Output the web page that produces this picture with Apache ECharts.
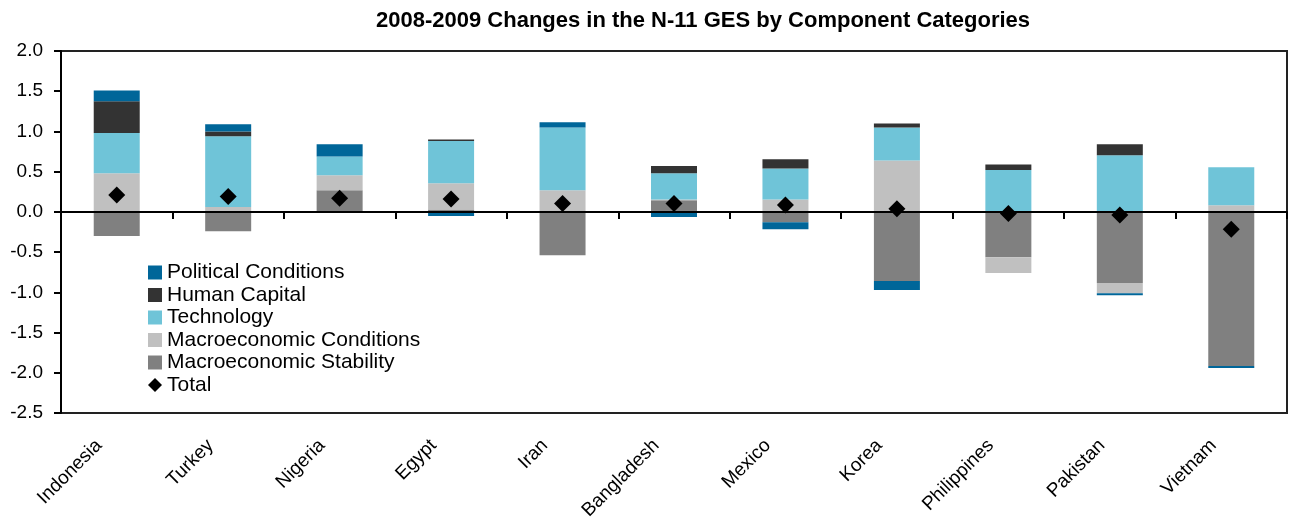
<!DOCTYPE html>
<html>
<head>
<meta charset="utf-8">
<script src="https://cdn.jsdelivr.net/npm/echarts@6/dist/echarts.min.js"></script>
<style>
    html, body {
        margin: 0;
        padding: 0;
        background: #fff;
    }

    #main {
        width: 1291px;
        height: 518px;
    }
</style>
</head>
<body>
<div id="main"></div>
<script>
    var categories = ['Indonesia', 'Turkey', 'Nigeria', 'Egypt', 'Iran', 'Bangladesh', 'Mexico', 'Korea', 'Philippines', 'Pakistan', 'Vietnam'];
    var stability = [-0.30, -0.24, 0.27, 0.03, -0.54, 0.145, -0.13, -0.86, -0.565, -0.885, -1.915];
    var conditions = [0.48, 0.06, 0.185, 0.325, 0.27, 0.01, 0.155, 0.64, -0.195, -0.125, 0.083];
    var technology = [0.50, 0.88, 0.235, 0.525, 0.78, 0.325, 0.385, 0.41, 0.52, 0.705, 0.472];
    var humanCapital = [0.395, 0.06, 0, 0.02, 0, 0.09, 0.115, 0.05, 0.07, 0.135, 0];
    var political = [0.135, 0.09, 0.15, -0.05, 0.065, -0.065, -0.085, -0.11, 0, -0.025, -0.025];
    var total = [0.21, 0.19, 0.17, 0.16, 0.105, 0.105, 0.085, 0.04, -0.02, -0.04, -0.215];

    var font = 'Liberation Sans, Arial, sans-serif';

    var myChart = echarts.init(document.getElementById('main'));

    function barSeries(name, data, color) {
        return {
            name: name,
            type: 'bar',
            stack: 'ges',
            barWidth: 46,
            itemStyle: {color: color},
            data: data,
            animation: false
        };
    }

    var option = {
        backgroundColor: '#fff',
        textStyle: {fontFamily: font},
        title: {
            text: '2008-2009 Changes in the N-11 GES by Component Categories',
            left: 371,
            top: 5,
            textStyle: {
                fontFamily: font,
                fontSize: 22,
                fontWeight: 'bold',
                color: '#000'
            }
        },
        legend: {
            orient: 'vertical',
            left: 148,
            top: 262,
            padding: 0,
            itemWidth: 14,
            itemHeight: 14,
            itemGap: 1.5,
            textStyle: {
                fontFamily: font,
                fontSize: 21,
                color: '#000'
            },
            data: [
                {name: 'Political Conditions', icon: 'rect'},
                {name: 'Human Capital', icon: 'rect'},
                {name: 'Technology', icon: 'rect'},
                {name: 'Macroeconomic Conditions', icon: 'rect'},
                {name: 'Macroeconomic Stability', icon: 'rect'},
                {name: 'Total', icon: 'diamond'}
            ]
        },
        grid: {
            left: 61,
            right: 4,
            top: 51,
            bottom: 105,
            show: true,
            borderColor: '#222',
            borderWidth: 2,
            containLabel: false,
            outerBoundsMode: 'none'
        },
        xAxis: [
            {
                type: 'category',
                data: categories,
                axisLine: {onZero: true, lineStyle: {color: '#000', width: 2}},
                axisTick: {show: true, length: 7, interval: 0, lineStyle: {color: '#000', width: 2}},
                axisLabel: {show: false},
                z: 10
            },
            {
                type: 'category',
                data: categories,
                position: 'bottom',
                axisLine: {show: false, onZero: false},
                axisTick: {show: false},
                axisLabel: {
                    interval: 0,
                    rotate: 45,
                    margin: 12,
                    padding: [0, 25, 0, 0],
                    fontFamily: font,
                    fontSize: 19,
                    color: '#000'
                }
            }
        ],
        yAxis: {
            type: 'value',
            min: -2.5,
            max: 2,
            interval: 0.5,
            splitLine: {show: false},
            axisLine: {show: true, lineStyle: {color: '#000', width: 2}},
            axisTick: {show: true, length: 7, lineStyle: {color: '#000', width: 2}},
            axisLabel: {
                margin: 18,
                fontFamily: font,
                fontSize: 19,
                color: '#000',
                formatter: function (v) {
                    return v.toFixed(1);
                }
            }
        },
        series: [
            barSeries('Macroeconomic Stability', stability, '#808080'),
            barSeries('Macroeconomic Conditions', conditions, '#c0c0c0'),
            barSeries('Technology', technology, '#6fc4d8'),
            barSeries('Human Capital', humanCapital, '#333333'),
            barSeries('Political Conditions', political, '#006699'),
            {
                name: 'Total',
                type: 'scatter',
                symbol: 'diamond',
                symbolSize: 17,
                itemStyle: {color: '#000', opacity: 1},
                data: total,
                z: 20,
                animation: false
            }
        ]
    };

    myChart.setOption(option);
</script>
</body>
</html>
